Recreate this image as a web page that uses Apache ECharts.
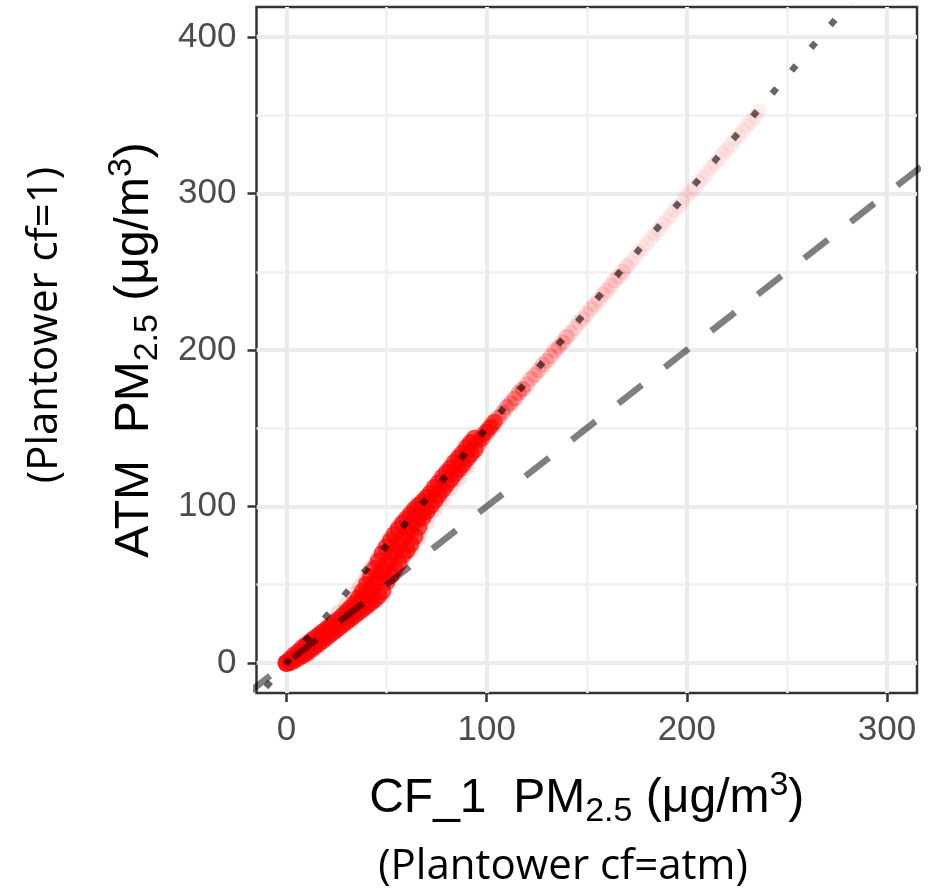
<!DOCTYPE html>
<html><head><meta charset="utf-8">
<script src="https://cdn.jsdelivr.net/npm/echarts@6/dist/echarts.min.js"></script>
<style>html,body{margin:0;padding:0;background:#fff}#c{width:940px;height:896px}</style>
</head><body><div id="c"></div>
<script>
// ---- axes ----
const xRange = [-15, 315];
const yRange = [-19.2, 419.2];
const xMajorTicks = [0, 100, 200, 300];
const xMinorTicks = [50, 150, 250];
const yMajorTicks = [0, 100, 200, 300, 400];
const yMinorTicks = [50, 150, 250, 350];

// ---- data: [CF_1, ATM] ----
const coreLower = [[0,0],[2,0.5],[4,2],[6,3.5],[8,5],[10,6.5],[12,8.5],[14,10.5],[16,12.5],[18,14.5],[20,16.5],[22,18.5],[24,20.5],[26,22.5],[28,24.5],[30,26.5],[32,28.5],[34,30.5],[36,32.5],[38,34.5],[40,36.5],[42,38.5],[44,40.5],[46,43],[48,46]];
const coreUpper = [[0,0],[2,2.5],[4,5],[6,7],[8,9.5],[10,11.5],[12,13.5],[14,15.5],[16,17.5],[18,19.5],[20,21.5],[22,23.5],[24,25.5],[26,27.5],[28,30],[30,32.5],[32,35],[34,38],[36,41.5],[38,45.5],[40,50],[42,55],[44,60],[46,65],[48,70]];
const coreMid = [[32,31.5],[34,34],[36,37],[38,40],[40,43],[42,46.5],[44,50.5],[46,54.5],[48,58.5],[50,63],[52,67],[54,71],[56,75],[58,79],[60,83],[62,87],[64,90.5],[66,94],[68,97.5]];
const steepLower = [[50,52],[52,56],[54,60],[56,64],[58,69],[60,72],[62,76],[64,81],[66,87],[68,93],[70,97],[72,100.5],[74,104],[76,107.5],[78,111],[80,114.5],[82,117.5],[84,121],[86,124],[88,127],[90,130.5],[92,133.5],[94,136.5]];
const steepUpper = [[50,74],[52,78],[54,82],[56,85.5],[58,89],[60,92],[62,95],[64,98],[66,100.5],[68,103],[70,105.5],[72,108.5],[74,112],[76,115],[78,118.5],[80,121.5],[82,124.5],[84,128],[86,131],[88,134],[90,137.5],[92,140.5],[94,143.5]];
const halo = [[26,32],[30,37],[34,44],[37,49],[40,55],[43,61],[46,67],[52,80],[56,87],[62,72],[66,80],[70,90],[74,98],[78,105],[82,112],[86,118],[90,125]];
const tail0 = [[96,140],[97,143],[98,144],[99,147],[100,147.5],[101,150],[102,150.5],[103,153],[104,154]];
const tail1 = [[96,142],[98,145.5],[100,148],[102,151],[104,154.5],[106,157],[108,160],[110,163.5],[112,166],[114,169],[116,172.5],[118,175]];
const tail2 = [[120,178],[122,181.5],[124,184],[126,187],[128,190.5],[130,193],[132,196],[134,199.5],[136,202],[138,205],[140,208.5]];
const tail3 = [[142,211],[144,214],[146,217.5],[148,220],[150,223],[152,226.5],[154,229],[156,232],[158,235.5],[160,238],[162,241],[164,244.5],[166,247],[168,250],[170,253.5]];
const tail4 = [[172,256],[174,259],[176,262.5],[178,265],[180,268],[182,271.5],[184,274],[186,277],[188,280.5],[190,283],[192,286],[194,289.5],[196,292],[198,295],[200,298.5],[202,301],[204,304],[206,307.5],[208,310],[210,313],[212,316.5],[214,319],[216,322],[218,325.5],[220,328],[222,331],[224,334.5],[226,337],[228,340],[230,343.5],[232,346],[234,349],[236,352.5]];

// reference lines: dashed 1:1, dotted 1.5:1
const refDashed = [[-20,-20],[320,320]];
const refDotted = [[-20,-30],[320,480]];

const xTitle = '{m|CF_1  PM}{s|2.5}{m| (μg/m}{p|3}{m|)}';
const yTitle = '{m|ATM  PM}{s|2.5}{m| (μg/m}{p|3}{m|)}';
const xCaption = '(Plantower cf=atm)';
const yCaption = '(Plantower cf=1)';

const FONT = 'Liberation Sans, Arial, sans-serif';
const rich = {
  m: {fontSize: 48, fontFamily: FONT, color: '#000', lineHeight: 60},
  s: {fontSize: 34, fontFamily: FONT, color: '#000', verticalAlign: 'bottom'},
  p: {fontSize: 34, fontFamily: FONT, color: '#000', verticalAlign: 'top', lineHeight: 24}
};

function majorAxis(range, ticks, extra) {
  return Object.assign({
    type: 'value', min: range[0], max: range[1],
    axisLine: {show: false, onZero: false},
    axisTick: {show: true, customValues: ticks, length: 9, lineStyle: {color: '#333333', width: 2.5}},
    axisLabel: {customValues: ticks, color: '#4D4D4D', fontSize: 35, fontFamily: FONT, margin: 20},
    splitLine: {show: true, lineStyle: {color: '#EBEBEB', width: 4}},
    minorTick: {show: false}, minorSplitLine: {show: false}
  }, extra);
}
function minorAxis(range, ticks, extra) {
  return Object.assign({
    type: 'value', min: range[0], max: range[1],
    axisLine: {show: false, onZero: false},
    axisTick: {show: false, customValues: ticks},
    axisLabel: {show: false, customValues: ticks},
    splitLine: {show: true, lineStyle: {color: '#F0F0F0', width: 2.5}}
  }, extra);
}

const pts = (arr) => arr.map(p => [p[0], p[1]]);
const scatter = (data, op, size) => ({
  type: 'scatter', xAxisIndex: 1, yAxisIndex: 1, data: pts(data), symbol: 'circle', symbolSize: size,
  itemStyle: {color: '#FF0000', opacity: op}, silent: true, z: 2
});

const option = {
  animation: false,
  backgroundColor: '#ffffff',
  grid: {left: 256.5, top: 7, right: 23, bottom: 203, show: true, borderColor: '#333333', borderWidth: 2.5, backgroundColor: '#ffffff', containLabel: false, outerBoundsMode: 'none'},
  xAxis: [
    minorAxis(xRange, xMinorTicks, {position: 'top'}),
    majorAxis(xRange, xMajorTicks, {position: 'bottom', name: xTitle, nameLocation: 'middle', nameGap: 76, nameTextStyle: {fontSize: 48, fontFamily: FONT, color: '#000', rich: rich}})
  ],
  yAxis: [
    minorAxis(yRange, yMinorTicks, {position: 'right'}),
    majorAxis(yRange, yMajorTicks, {position: 'left', name: yTitle, nameLocation: 'middle', nameGap: 92, nameTextStyle: {fontSize: 48, fontFamily: FONT, color: '#000', rich: rich}})
  ],
  series: [
    scatter(tail4, 0.06, 16),
    scatter(tail3, 0.12, 16),
    scatter(tail2, 0.22, 16),
    scatter(tail1, 0.35, 16),
    scatter(tail0, 0.35, 17),
    scatter(halo, 0.12, 17),
    scatter(coreLower.concat(coreUpper, coreMid, steepLower, steepUpper), 0.7, 18),
    {type: 'line', xAxisIndex: 1, yAxisIndex: 1, data: refDashed, showSymbol: false, silent: true, z: 5, clip: true,
     lineStyle: {color: 'rgba(0,0,0,0.5)', width: 6.5, type: [30, 29]}},
    {type: 'line', xAxisIndex: 1, yAxisIndex: 1, data: refDotted, showSymbol: false, silent: true, z: 6, clip: true,
     lineStyle: {color: 'rgba(0,0,0,0.6)', width: 6.5, type: [7, 23]}}
  ],
  graphic: [
    {type: 'text', x: 563, y: 867, silent: true,
     style: {text: xCaption, fontSize: 42, fontFamily: 'Open Sans', fill: '#000', align: 'center', verticalAlign: 'middle'}},
    {type: 'text', x: 45, y: 325, rotation: Math.PI / 2, silent: true,
     style: {text: yCaption, fontSize: 42, fontFamily: 'Open Sans', fill: '#000', align: 'center', verticalAlign: 'middle'}}
  ]
};
const chart = echarts.init(document.getElementById('c'), null, {renderer: 'canvas', width: 940, height: 896});
chart.setOption(option);
</script>
</body></html>
